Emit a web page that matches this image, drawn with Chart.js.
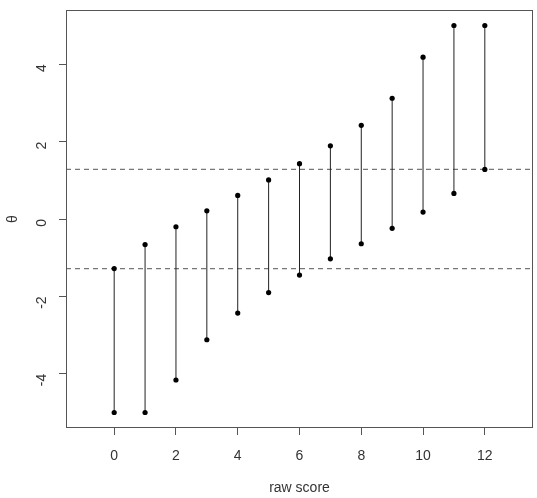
<!DOCTYPE html>
<html>
<head>
<meta charset="utf-8">
<script src="https://cdn.jsdelivr.net/npm/chart.js@4.4.1/dist/chart.umd.min.js"></script>
<style>
html,body{margin:0;padding:0;background:#fff;}
#wrap{width:537px;height:498px;position:relative;}
</style>
</head>
<body>
<div id="wrap"><canvas id="c" width="537" height="498"></canvas></div>
<script>
const rawScores = [0,1,2,3,4,5,6,7,8,9,10,11,12];
const lowerTheta = [-5.00,-5.00,-4.16,-3.12,-2.43,-1.90,-1.45,-1.03,-0.64,-0.24,0.18,0.66,1.28];
const upperTheta = [-1.28,-0.66,-0.20,0.21,0.61,1.01,1.43,1.89,2.42,3.12,4.18,5.00,5.00];
const cutoffs = [-1.28, 1.28];
const xTicks = [0,2,4,6,8,10,12];
const yTicks = [-4,-2,0,2,4];
const xLimits = [-1.56, 13.56];
const yLimits = [-5.4, 5.4];

const segData = [];
rawScores.forEach((k,i)=>{
  segData.push({x:k,y:lowerTheta[i]});
  segData.push({x:k,y:upperTheta[i]});
  segData.push({x:k,y:null});
});

const datasets = [{
  data: segData,
  showLine: true,
  spanGaps: false,
  borderColor: '#222',
  borderWidth: 1,
  pointRadius: 2.6,
  pointBackgroundColor: '#000',
  pointBorderColor: '#000',
  pointBorderWidth: 0,
  order: 1
}];
cutoffs.forEach(c=>{
  datasets.push({
    data: [{x:xLimits[0],y:c},{x:xLimits[1],y:c}],
    showLine: true,
    borderColor: '#777',
    borderWidth: 1.2,
    borderDash: [5,4],
    pointRadius: 0,
    order: 2
  });
});

const FONT = {family: "'Liberation Sans', Arial, sans-serif", size: 14};
const boxPlugin = {
  id: 'box',
  afterDraw(chart){
    const a = chart.chartArea, ctx = chart.ctx;
    ctx.save();
    ctx.strokeStyle = '#555';
    ctx.lineWidth = 1;
    ctx.strokeRect(Math.round(a.left)+0.5, Math.round(a.top)+0.5, Math.round(a.right-a.left)-1, Math.round(a.bottom-a.top)-1);
    ctx.restore();
  }
};

new Chart(document.getElementById('c'), {
  type: 'scatter',
  data: {datasets},
  plugins: [boxPlugin],
  options: {
    responsive: false,
    animation: false,
    events: [],
    layout: {padding: {top: 10, right: 0, left: 0, bottom: 0}},
    plugins: {legend: {display: false}, tooltip: {enabled: false}},
    scales: {
      x: {
        type: 'linear',
        min: xLimits[0], max: xLimits[1],
        afterBuildTicks: s => { s.ticks = xTicks.map(v=>({value:v})); },
        afterFit: s => { s.height = 70; s.paddingLeft = 0; s.paddingRight = 0; },
        grid: {drawOnChartArea: false, drawTicks: true, tickLength: 7, color: '#555'},
        border: {display: false},
        ticks: {color: '#333', font: FONT, padding: 13, maxRotation: 0, autoSkip: false},
        title: {display: true, text: 'raw score', color: '#333', font: FONT, padding: {top: 0, bottom: 1}}
      },
      y: {
        type: 'linear',
        min: yLimits[0], max: yLimits[1],
        afterBuildTicks: s => { s.ticks = yTicks.map(v=>({value:v})); },
        afterFit: s => { s.width = 66; s.paddingTop = 0; s.paddingBottom = 0; },
        grid: {drawOnChartArea: false, drawTicks: true, tickLength: 7, color: '#555'},
        border: {display: false},
        ticks: {color: '#333', font: FONT, padding: 17, minRotation: 90, maxRotation: 90, autoSkip: false},
        title: {display: true, text: 'θ', color: '#333', font: FONT, padding: {top: 5, bottom: 0}}
      }
    }
  }
});
</script>
</body>
</html>
